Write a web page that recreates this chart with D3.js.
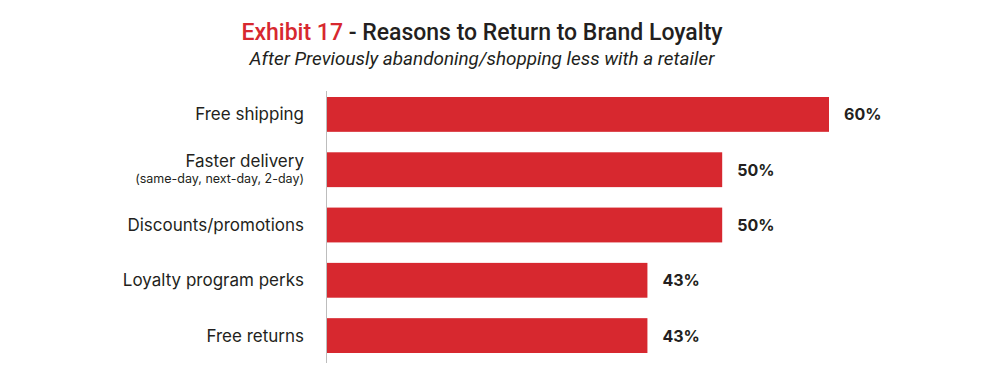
<!DOCTYPE html>
<html>
<head>
<meta charset="utf-8">
<script src="https://cdn.jsdelivr.net/npm/d3@7"></script>
<style>
  html, body { margin: 0; padding: 0; background: #fff; }
  svg { display: block; font-family: Inter, "Noto Sans", sans-serif; }
</style>
</head>
<body>
<svg id="chart" width="1000" height="369"></svg>
<script>
const categories = ["Free shipping", "Faster delivery", "Discounts/promotions", "Loyalty program perks", "Free returns"];
const subLabels = ["", "(same-day, next-day, 2-day)", "", "", ""];
const values = [60, 50, 50, 43, 43];
const valueLabels = ["60%", "50%", "50%", "43%", "43%"];

const svg = d3.select("#chart");
const red = "#d7282f";
const ink = "#231f20";

// Title
const title = svg.append("text")
  .attr("x", 482).attr("y", 40)
  .attr("text-anchor", "middle")
  .style("font-family", "Roboto, sans-serif")
  .style("font-size", "23px").style("font-weight", 500);
title.append("tspan").attr("fill", red).text("Exhibit 17");
title.append("tspan").attr("fill", ink).text(" - Reasons to Return to Brand Loyalty");

svg.append("text")
  .attr("x", 482).attr("y", 65)
  .attr("text-anchor", "middle")
  .attr("fill", ink)
  .style("font-family", "Roboto, sans-serif")
  .style("font-size", "18.9px").style("font-style", "italic")
  .text("After Previously abandoning/shopping less with a retailer");

const x0 = 327;
const x = d3.scaleLinear().domain([13, 60]).range([x0, 829]);

// first bar top at 97, step 55.3, bar height ~34.8
const yb = d3.scaleBand().domain(categories).range([97, 97 + 55.3 * 5 - 20.5]).paddingInner(0.37).paddingOuter(0);

const g = svg.append("g");

g.selectAll("rect.bar").data(values).join("rect")
  .attr("class", "bar")
  .attr("x", x0)
  .attr("y", (d, i) => yb(categories[i]))
  .attr("width", d => x(d) - x0)
  .attr("height", yb.bandwidth())
  .attr("fill", red);

// axis line
svg.append("line")
  .attr("x1", 326.5).attr("x2", 326.5)
  .attr("y1", 91).attr("y2", 363)
  .attr("stroke", "#bdbdbd").attr("stroke-width", 1);

// value labels
g.selectAll("text.val").data(values).join("text")
  .attr("class", "val")
  .attr("x", d => x(d) + 15)
  .attr("y", (d, i) => yb(categories[i]) + yb.bandwidth() / 2 + 6)
  .attr("fill", ink)
  .style("font-size", "16px").style("font-weight", 700)
  .text((d, i) => valueLabels[i]);

// category labels
categories.forEach((c, i) => {
  const cy = yb(c) + yb.bandwidth() / 2;
  if (subLabels[i]) {
    g.append("text").attr("x", 304).attr("y", cy - 3)
      .attr("text-anchor", "end").attr("fill", ink)
      .style("font-size", "17px").text(c);
    g.append("text").attr("x", 304).attr("y", cy + 13)
      .attr("text-anchor", "end").attr("fill", ink)
      .style("font-size", "12.5px").text(subLabels[i]);
  } else {
    g.append("text").attr("x", 304).attr("y", cy + 6)
      .attr("text-anchor", "end").attr("fill", ink)
      .style("font-size", "17px").text(c);
  }
});
</script>
</body>
</html>
